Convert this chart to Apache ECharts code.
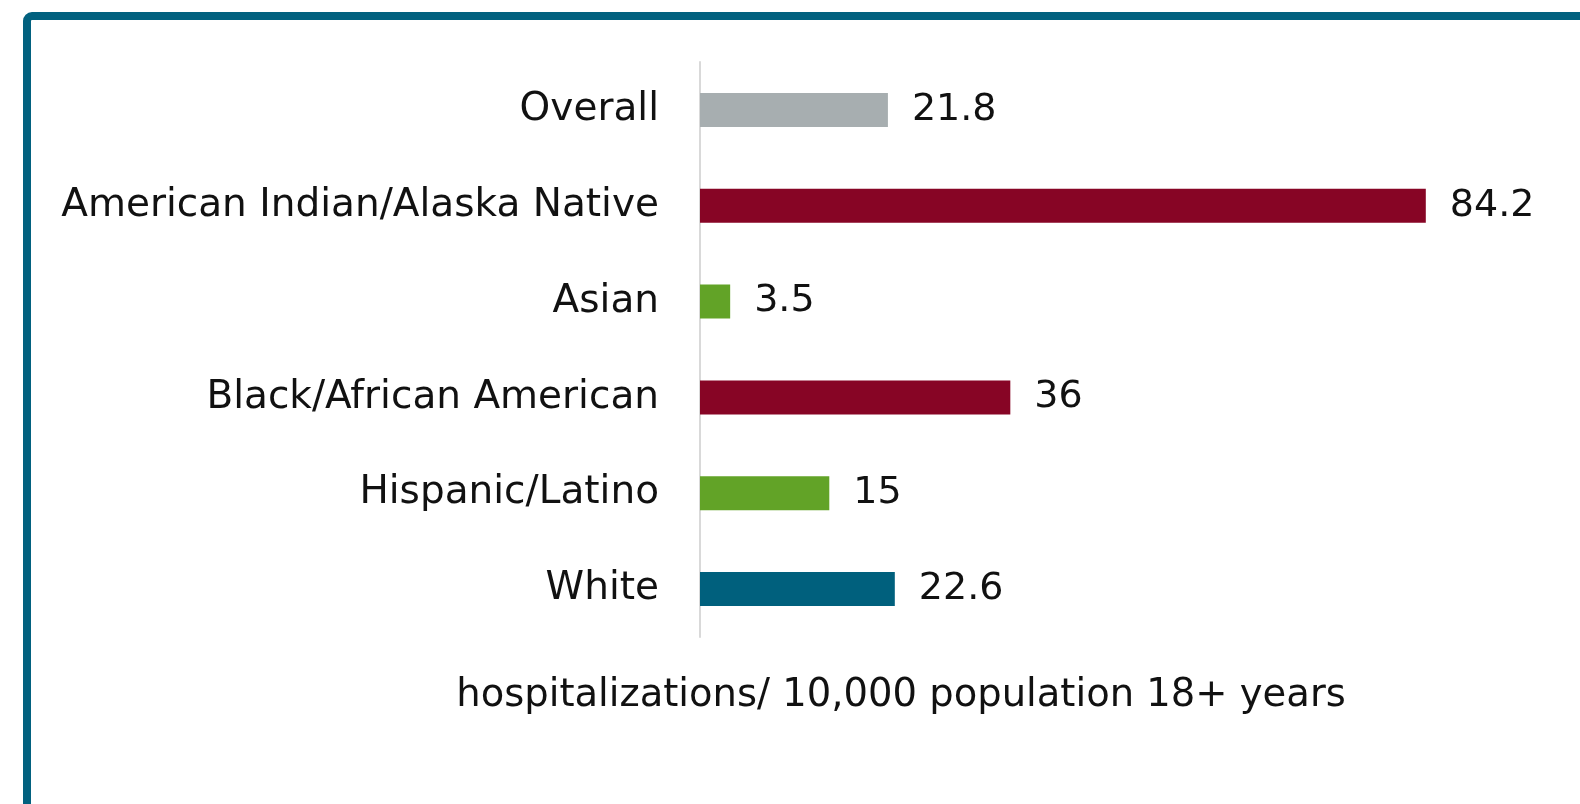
<!DOCTYPE html>
<html>
<head>
<meta charset="utf-8">
<script src="https://cdn.jsdelivr.net/npm/echarts@6/dist/echarts.min.js"></script>
<style>
  html, body { margin: 0; padding: 0; background: #fff; }
  #chart { width: 1580px; height: 804px; }
</style>
</head>
<body>
<div id="chart"></div>
<script>
// Hospitalization rates by race/ethnicity
const categories = [
  'Overall',
  'American Indian/Alaska Native',
  'Asian',
  'Black/African American',
  'Hispanic/Latino',
  'White'
];
const values = [21.8, 84.2, 3.5, 36, 15, 22.6];
const valueLabels = ['21.8', '84.2', '3.5', '36', '15', '22.6'];
const barColors = ['#a7aeb0', '#870525', '#62a327', '#870525', '#62a327', '#00607d'];
const axisTitle = 'hospitalizations/ 10,000 population 18+ years';

const FONT = '"DejaVu Sans", "Open Sans", sans-serif';

const chart = echarts.init(document.getElementById('chart'), null, { renderer: 'canvas' });

chart.setOption({
  animation: false,
  backgroundColor: '#ffffff',
  title: {
    text: axisTitle,
    left: 896,
    top: 671,
    textAlign: 'center',
    textStyle: { fontFamily: FONT, fontSize: 38.5, fontWeight: 'normal', color: '#111' }
  },
  graphic: [{
    type: 'rect',
    shape: { x: 27, y: 16, width: 1700, height: 900, r: 5 },
    style: { fill: 'none', stroke: '#02617f', lineWidth: 8 },
    silent: true
  }],
  grid: { left: 700, right: 18, top: 62, bottom: 167, containLabel: false },
  xAxis: {
    type: 'value',
    min: 0,
    max: 100,
    show: false
  },
  yAxis: {
    type: 'category',
    inverse: true,
    data: categories,
    axisLine: { show: true, lineStyle: { color: '#d9d9d9', width: 2 } },
    axisTick: { show: false },
    axisLabel: { fontFamily: FONT, fontSize: 39, color: '#111', margin: 41 }
  },
  series: [{
    type: 'bar',
    barWidth: 34,
    data: values.map((v, i) => ({ value: v, itemStyle: { color: barColors[i] } })),
    label: {
      show: true,
      position: 'right',
      distance: 24,
      fontFamily: FONT,
      fontSize: 38,
      color: '#111',
      formatter: p => valueLabels[p.dataIndex]
    }
  }]
});
</script>
</body>
</html>
